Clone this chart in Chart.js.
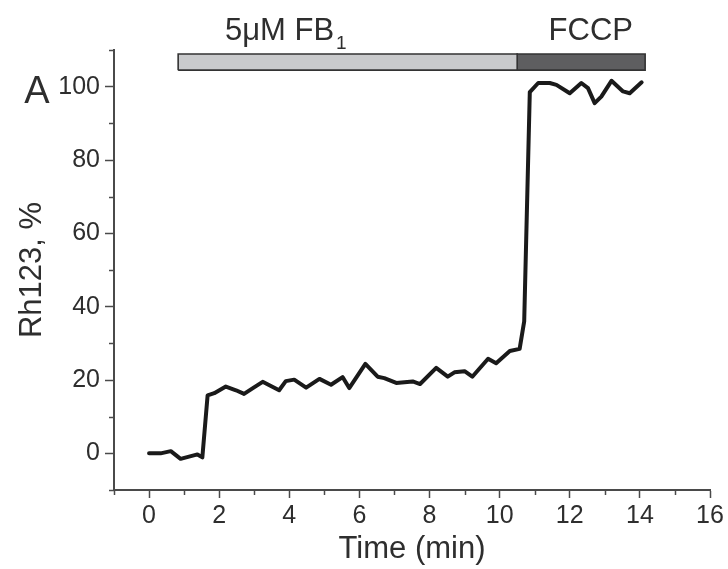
<!DOCTYPE html>
<html><head><meta charset="utf-8">
<script src="https://cdn.jsdelivr.net/npm/chart.js@4.4.0/dist/chart.umd.min.js"></script>
<style>html,body{margin:0;padding:0;background:#fff}#wrap{width:728px;height:569px;position:relative}</style>
</head><body><div id="wrap"><canvas id="c"></canvas></div>
<script>
// ---- data ----
const timeMin = [0, 0.33, 0.62, 0.9, 1.14, 1.38, 1.52, 1.67, 1.86, 2.19, 2.48, 2.71, 2.95, 3.24, 3.71, 3.9, 4.14, 4.48, 4.86, 5.19, 5.52, 5.71, 6.17, 6.52, 6.71, 7.05, 7.52, 7.73, 8.19, 8.52, 8.71, 9.0, 9.22, 9.67, 9.9, 10.29, 10.57, 10.7, 10.86, 11.1, 11.43, 11.62, 12.0, 12.33, 12.52, 12.71, 12.9, 13.19, 13.52, 13.71, 14.05];
const rh123 = [0, 0, 0.6, -1.5, -0.9, -0.3, -1.1, 15.8, 16.4, 18.2, 17.2, 16.2, 17.7, 19.5, 17.2, 19.7, 20.1, 17.9, 20.3, 18.7, 20.8, 17.8, 24.4, 20.9, 20.5, 19.2, 19.6, 18.9, 23.3, 20.9, 22.1, 22.4, 20.9, 25.8, 24.6, 27.9, 28.5, 36, 98.5, 101, 101, 100.5, 98.2, 101, 99.6, 95.5, 97.3, 101.6, 98.7, 98.2, 101.2];
const xTicks = [0, 2, 4, 6, 8, 10, 12, 14, 16];
const xMinorTicks = [-1, 1, 3, 5, 7, 9, 11, 13, 15];
const yTicks = [0, 20, 40, 60, 80, 100];
const yMinorTicks = [-10, 10, 30, 50, 70, 90, 110];
const treatmentNames = ['5\u03bcM FB', 'FCCP'];
const treatmentSubs = ['1', ''];
const treatmentStart = [0.83, 10.5];
const treatmentEnd = [10.5, 14.15];
const treatmentLow = [104.5, 104.5];
const treatmentHigh = [108.9, 108.9];

// ---- styles ----
const treatmentFill = ['#c9cacc', '#5e5e60'];
const treatmentLabelAt = [3.9, 12.6];
const AXIS = '#4a4a4a', TEXT = '#2e2e2e';
const FONT = "'Liberation Sans', Arial, sans-serif";

const treatmentSets = treatmentNames.map((n, i) => ({
  label: n,
  data: [
    {x: treatmentStart[i], y: treatmentLow[i]},
    {x: treatmentEnd[i], y: treatmentLow[i]},
    {x: treatmentEnd[i], y: treatmentHigh[i]},
    {x: treatmentStart[i], y: treatmentHigh[i]},
    {x: treatmentStart[i], y: treatmentLow[i]}
  ],
  showLine: true, fill: 'shape', backgroundColor: treatmentFill[i],
  borderColor: '#333333', borderWidth: 1.6, pointRadius: 0, tension: 0
}));

const extras = {
  id: 'extras',
  afterDraw(chart) {
    const {ctx, chartArea: a, scales: {x, y}} = chart;
    ctx.save();
    ctx.strokeStyle = AXIS; ctx.lineWidth = 1.5;
    xMinorTicks.forEach(v => {
      const p = Math.round(x.getPixelForValue(v)) + 0.5;
      ctx.beginPath(); ctx.moveTo(p, a.bottom); ctx.lineTo(p, a.bottom + 5); ctx.stroke();
    });
    yMinorTicks.forEach(v => {
      const p = Math.round(y.getPixelForValue(v)) + 0.5;
      ctx.beginPath(); ctx.moveTo(a.left - 5, p); ctx.lineTo(a.left, p); ctx.stroke();
    });
    // treatment labels
    ctx.fillStyle = TEXT; ctx.textBaseline = 'alphabetic';
    treatmentNames.forEach((n, i) => {
      const cx = x.getPixelForValue(treatmentLabelAt[i]);
      const by = y.getPixelForValue(treatmentHigh[i]) - 14;
      ctx.font = '31px ' + FONT;
      const w1 = ctx.measureText(n).width;
      ctx.font = '19px ' + FONT;
      const w2 = treatmentSubs[i] ? ctx.measureText(treatmentSubs[i]).width + 2 : 0;
      const sx = cx - (w1 + w2) / 2;
      ctx.font = '31px ' + FONT; ctx.textAlign = 'left';
      ctx.fillText(n, sx, by);
      if (treatmentSubs[i]) { ctx.font = '19px ' + FONT; ctx.fillText(treatmentSubs[i], sx + w1 + 2, by + 9); }
    });
    // panel letter
    ctx.font = '38px ' + FONT; ctx.textAlign = 'center';
    ctx.fillText('A', a.left - 77, y.getPixelForValue(100) + 16);
    ctx.restore();
  }
};

new Chart(document.getElementById('c'), {
  type: 'scatter',
  data: {
    datasets: [
      {label: 'Rh123', data: timeMin.map((t, i) => ({x: t, y: rh123[i]})), showLine: true,
       borderColor: '#1a1a1a', borderWidth: 4, pointRadius: 0, tension: 0, fill: false,
       borderJoinStyle: 'round', borderCapStyle: 'round'},
      ...treatmentSets
    ]
  },
  options: {
    responsive: true, maintainAspectRatio: false, animation: false,
    layout: {padding: {top: 50, right: 18, left: 0, bottom: 0}},
    plugins: {legend: {display: false}, tooltip: {enabled: false}},
    scales: {
      x: {
        type: 'linear', min: -1, max: 16,
        afterBuildTicks: s => { s.ticks = xTicks.map(v => ({value: v})); },
        afterFit: s => { s.height = 79; },
        grid: {drawOnChartArea: false, drawTicks: true, tickLength: 8, tickColor: AXIS, tickWidth: 1.5},
        border: {display: true, color: AXIS, width: 2},
        ticks: {font: {family: FONT, size: 25}, color: TEXT, padding: 3, maxRotation: 0, autoSkip: false},
        title: {display: true, text: 'Time (min)', font: {family: FONT, size: 31}, color: TEXT, padding: {top: 0, bottom: 1}}
      },
      y: {
        type: 'linear', min: -10, max: 110,
        afterBuildTicks: s => { s.ticks = yTicks.map(v => ({value: v})); },
        afterFit: s => { s.width = 114; },
        grid: {drawOnChartArea: false, drawTicks: true, tickLength: 9, tickColor: AXIS, tickWidth: 1.5},
        border: {display: true, color: AXIS, width: 2},
        ticks: {font: {family: FONT, size: 25}, color: TEXT, padding: 5},
        title: {display: true, text: 'Rh123, %', font: {family: FONT, size: 31}, color: TEXT, padding: {top: 14, bottom: 0}}
      }
    }
  },
  plugins: [extras]
});
</script></body></html>
